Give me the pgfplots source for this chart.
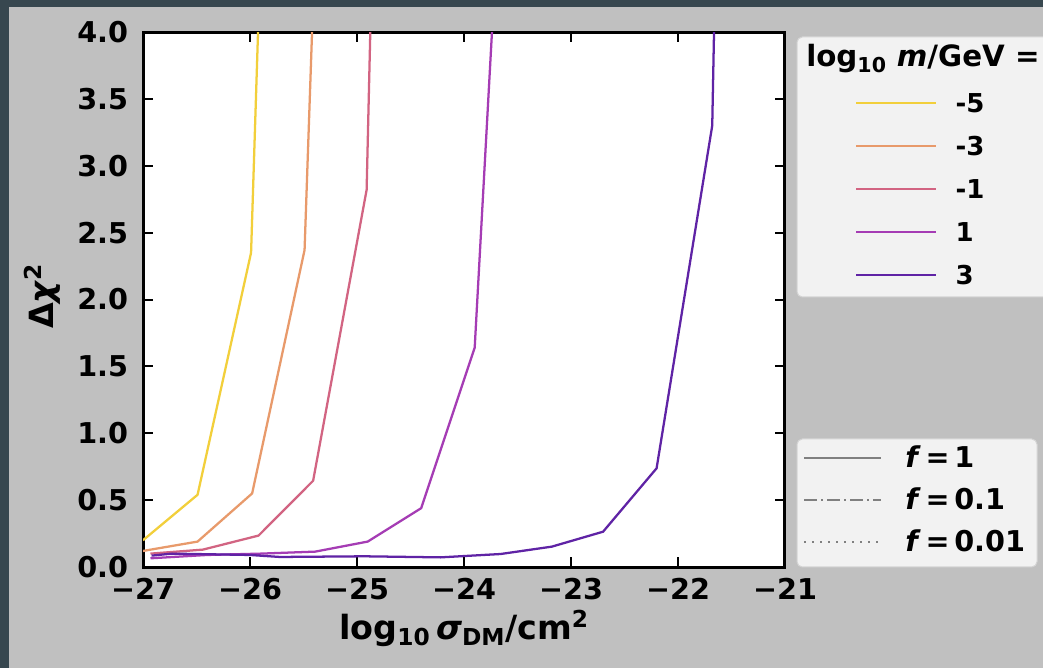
\documentclass[border=0pt]{standalone}
\usepackage{pgfplots}
\pgfplotsset{compat=1.18}
\usepackage{fontspec}
\setmainfont{DejaVu Sans}
\definecolor{borderdark}{HTML}{37474F}
\definecolor{bggray}{HTML}{C0C0C0}
\definecolor{legfill}{HTML}{F2F2F2}
\definecolor{legedge}{HTML}{D4D4D4}
\definecolor{cmA}{HTML}{F2CF3B}
\definecolor{cmB}{HTML}{E89A6B}
\definecolor{cmC}{HTML}{D26482}
\definecolor{cmD}{HTML}{A53CB4}
\definecolor{cmE}{HTML}{5F23A5}
\definecolor{fgray}{HTML}{808080}
\begin{document}
\begin{tikzpicture}[x=0.75pt,y=0.75pt]
\useasboundingbox (0,0) rectangle (1043,668);
\fill[borderdark] (0,0) rectangle (1043,668);
\fill[bggray] (9,0) rectangle (1043,661);
\draw[legedge, fill=legfill, rounded corners=4pt, line width=0.75pt] (797,371) rectangle (1070,631);
\draw[legedge, fill=legfill, rounded corners=4pt, line width=0.75pt] (797,101) rectangle (1037,229);
\node[anchor=base west, inner sep=0pt, font=\fontsize{22}{26}\selectfont\bfseries] at (806,601.5) {log\textsubscript{10} \textit{m}/GeV =};
\begin{axis}[
  at={(107.25pt,75.75pt)}, anchor=south west,
  scale only axis, width=481.5pt, height=401.25pt,
  xmin=-27, xmax=-21, ymin=0, ymax=4,
  axis background/.style={fill=white},
  xtick={-27,-26,-25,-24,-23,-22,-21},
  xticklabels={−27,−26,−25,−24,−23,−22,−21},
  ytick={0,0.5,1,1.5,2,2.5,3,3.5,4},
  yticklabels={0.0,0.5,1.0,1.5,2.0,2.5,3.0,3.5,4.0},
  tick align=inside, major tick length=7.5pt,
  every tick/.style={black, line width=1.5pt},
  axis line style={black, line width=2.25pt},
  ticklabel style={font=\fontsize{21.5}{21.5}\selectfont\bfseries},
  yticklabel style={inner sep=0pt, xshift=-11pt},
  xticklabel style={inner sep=0pt, yshift=-8pt},
  xlabel={log\textsubscript{10}\,\textit{σ}\textsubscript{DM}/cm\textsuperscript{2}},
  ylabel={Δ\textit{χ}\textsuperscript{2}},
  xlabel style={font=\fontsize{25}{25}\selectfont\bfseries, at={(axis description cs:0.5,-0.1364)}, anchor=base, inner sep=0pt},
  ylabel style={font=\fontsize{25}{25}\selectfont\bfseries, at={(axis description cs:-0.140,0.5065)}, anchor=base, inner sep=0pt},
  legend style={at={(axis description cs:1.109,0.885)}, anchor=north west, draw=none, fill=none, inner sep=0pt, row sep=18.25pt, column sep=13.5pt, font=\fontsize{19.5}{19.5}\selectfont\bfseries, nodes={inner sep=0pt, text height=14pt, text depth=0pt}},
  legend cell align=left,
  legend image code/.code={\draw[#1] (0pt,0pt) -- (60pt,0pt);},
  every axis plot/.append style={line width=1.7pt},
]
\addplot[cmA] coordinates {(-27,0.20) (-26.49,0.54) (-25.99,2.35) (-25.913,4.3)};
\addlegendentry{-5}
\addplot[cmB] coordinates {(-27,0.12) (-26.49,0.19) (-25.98,0.55) (-25.49,2.37) (-25.407,4.3)};
\addlegendentry{-3}
\addplot[cmC] coordinates {(-26.93,0.10) (-26.44,0.13) (-25.92,0.235) (-25.41,0.645) (-24.91,2.82) (-24.867,4.3)};
\addlegendentry{-1}
\addplot[cmD] coordinates {(-26.93,0.065) (-26.4,0.09) (-25.9,0.10) (-25.39,0.115) (-24.9,0.19) (-24.4,0.44) (-23.9,1.64) (-23.718,4.3)};
\addlegendentry{1}
\addplot[cmE] coordinates {(-26.92,0.085) (-26.73,0.10) (-26.0,0.09) (-25.72,0.075) (-24.93,0.08) (-24.22,0.072) (-23.66,0.097) (-23.18,0.152) (-22.70,0.264) (-22.20,0.738) (-21.68,3.30) (-21.656,4.3)};
\addlegendentry{3}
\end{axis}
\begin{axis}[
  at={(107.25pt,75.75pt)}, anchor=south west,
  scale only axis, width=481.5pt, height=401.25pt,
  xmin=0, xmax=1, ymin=0, ymax=1, hide axis,
  legend style={at={(axis description cs:1.028,0.2243)}, anchor=north west, draw=none, fill=none, inner sep=0pt, row sep=16pt, column sep=17.25pt, font=\fontsize{21.5}{21.5}\selectfont\bfseries, nodes={inner sep=0pt, text height=15.5pt, text depth=0pt}},
  legend cell align=left,
  legend image code/.code={\draw[#1] (0pt,0pt) -- (57.75pt,0pt);},
]
\addlegendimage{fgray, line width=1.5pt}
\addlegendentry{\textit{f}\,=\,1}
\addlegendimage{fgray, line width=1.5pt, dash pattern=on 9.75pt off 3pt on 1.5pt off 3pt}
\addlegendentry{\textit{f}\,=\,0.1}
\addlegendimage{fgray, line width=1.5pt, dash pattern=on 1.5pt off 4.5pt}
\addlegendentry{\textit{f}\,=\,0.01}
\end{axis}
\end{tikzpicture}
\end{document}
